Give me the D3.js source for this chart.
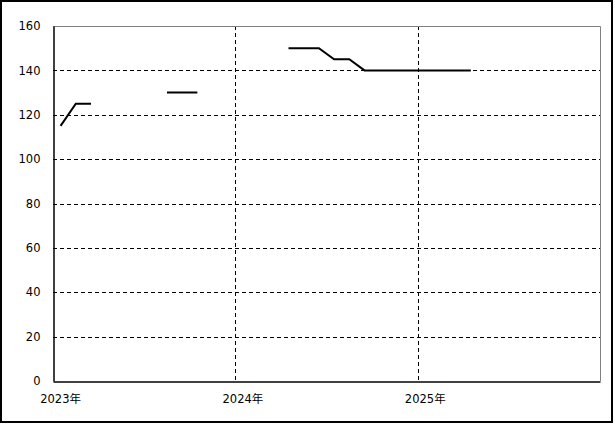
<!DOCTYPE html>
<html>
<head>
<meta charset="utf-8">
<script src="https://cdn.jsdelivr.net/npm/d3@7"></script>
<style>
  body { margin: 0; background: #fff; }
  svg { display: block; }
  text { font-family: "DejaVu Sans", "Noto Sans CJK JP", sans-serif; font-size: 11.5px; fill: #000; }
</style>
</head>
<body>
<svg id="chart" width="615" height="424"></svg>
<script>
// ---- data (monthly, Jan 2023 .. Dec 2025; null = no value) ----
const months = [
  "2023-01","2023-02","2023-03","2023-04","2023-05","2023-06","2023-07","2023-08","2023-09","2023-10","2023-11","2023-12",
  "2024-01","2024-02","2024-03","2024-04","2024-05","2024-06","2024-07","2024-08","2024-09","2024-10","2024-11","2024-12",
  "2025-01","2025-02","2025-03","2025-04","2025-05","2025-06","2025-07","2025-08","2025-09","2025-10","2025-11","2025-12"
];
const values = [
  115, 125, 125, null, null, null, null, 130, 130, 130, null, null,
  null, null, null, 150, 150, 150, 145, 145, 140, 140, 140, 140,
  140, 140, 140, 140, null, null, null, null, null, null, null, null
];
const yTicks = [0, 20, 40, 60, 80, 100, 120, 140, 160];
const xTickMonths = ["2023-01", "2024-01", "2025-01"];
const xTickLabels = ["2023年", "2024年", "2025年"];

// ---- layout ----
const svg = d3.select("#chart");
const L = 53, R = 600, T = 26, B = 381;

const x = d3.scaleBand().domain(months).range([L, R]).paddingInner(0).paddingOuter(0);
const y = d3.scaleLinear().domain([0, 160]).range([B, T]);
const cx = m => x(m) + x.bandwidth() / 2;

// outer border
svg.append("rect")
  .attr("x", 1).attr("y", 1).attr("width", 611).attr("height", 421)
  .attr("fill", "none").attr("stroke", "#000").attr("stroke-width", 2);

// horizontal grid
svg.append("g").selectAll("line")
  .data(yTicks.filter(v => v > 0 && v < 160))
  .join("line")
  .attr("x1", L).attr("x2", R)
  .attr("y1", d => Math.round(y(d)) + 0.5).attr("y2", d => Math.round(y(d)) + 0.5)
  .attr("stroke", "#000").attr("stroke-width", 1).attr("stroke-dasharray", "4,3");

// vertical grid at year boundaries
svg.append("g").selectAll("line")
  .data(xTickMonths.slice(1))
  .join("line")
  .attr("x1", d => Math.round(x(d)) + 0.5).attr("x2", d => Math.round(x(d)) + 0.5)
  .attr("y1", T).attr("y2", B)
  .attr("stroke", "#000").attr("stroke-width", 1).attr("stroke-dasharray", "4,3");

// plot frame: top & right grey
svg.append("path")
  .attr("d", `M${L},${T + 0.5}H${R + 0.5}V${B}`)
  .attr("fill", "none").attr("stroke", "#808080").attr("stroke-width", 1);

// y axis
const yAxis = d3.axisLeft(y).tickValues(yTicks).tickSize(0).tickPadding(13);
const gy = svg.append("g").attr("transform", `translate(${L + 0.5},0)`).call(yAxis);
gy.select(".domain").attr("stroke", "#000").attr("stroke-width", 1.5);
gy.selectAll("text").style("font-family", '"DejaVu Sans", sans-serif').style("font-size", "11.5px");

// x axis
const xAxis = d3.axisBottom(x).tickValues(xTickMonths)
  .tickFormat(d => xTickLabels[xTickMonths.indexOf(d)]).tickSize(0).tickPadding(13);
const gx = svg.append("g").attr("transform", `translate(0,${B + 0.5})`).call(xAxis);
gx.select(".domain").attr("stroke", "#000").attr("stroke-width", 1.5);
gx.selectAll("text").style("font-family", '"DejaVu Sans", "Noto Sans CJK JP", sans-serif').style("font-size", "11.5px");

// series line
const line = d3.line()
  .defined((d, i) => values[i] !== null)
  .x((d, i) => cx(months[i]))
  .y((d, i) => y(values[i]));
svg.append("path")
  .datum(months)
  .attr("d", line)
  .attr("fill", "none").attr("stroke", "#000").attr("stroke-width", 2)
  .attr("stroke-linejoin", "miter");
</script>
</body>
</html>
